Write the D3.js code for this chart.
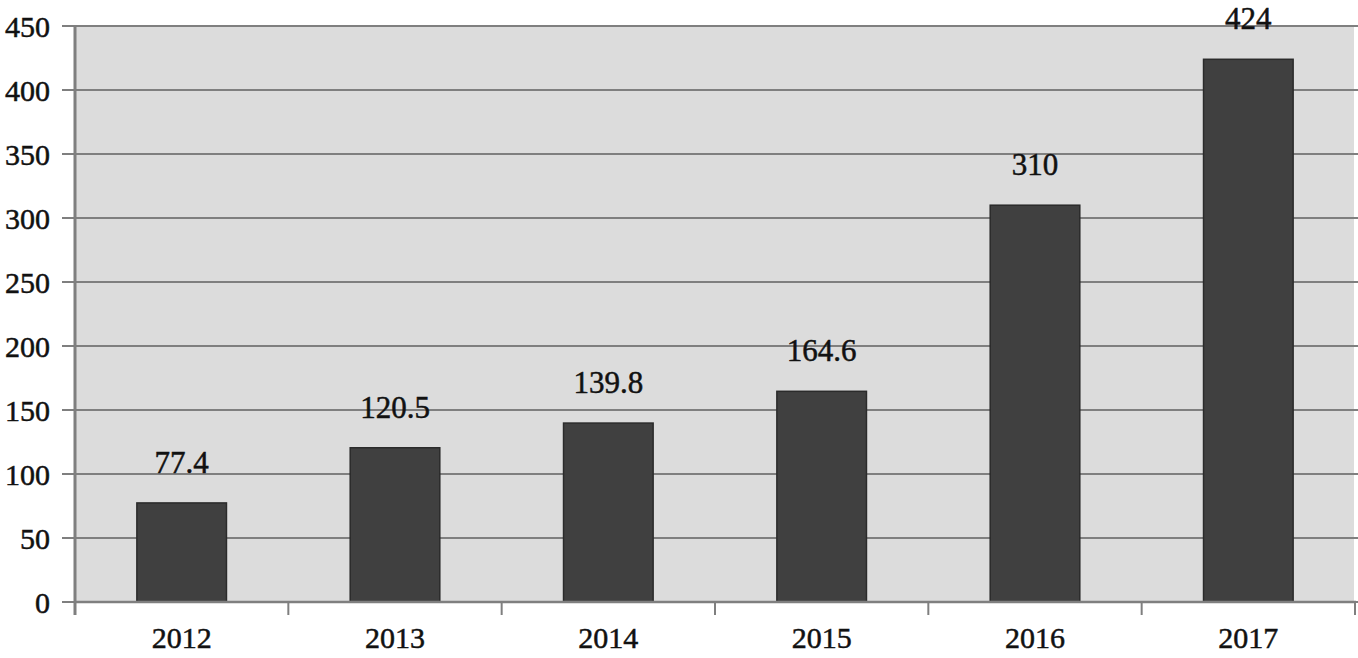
<!DOCTYPE html>
<html><head><meta charset="utf-8">
<script src="https://cdn.jsdelivr.net/npm/d3@7"></script>
<style>
html,body{margin:0;padding:0;background:#fff;}
svg{display:block;}
text{font-family:"Liberation Serif","Times New Roman",serif;fill:#111;stroke:#111;stroke-width:0.5px;}
</style></head>
<body>
<svg id="chart" width="1358" height="658"></svg>
<script>
const categories = ["2012","2013","2014","2015","2016","2017"];
const values = [77.4, 120.5, 139.8, 164.6, 310, 424];
const valueLabels = ["77.4","120.5","139.8","164.6","310","424"];
const yTicks = [0,50,100,150,200,250,300,350,400,450];

const W = 1358, H = 658;
const m = {left:75, right:3, top:26, bottom:56};
const svg = d3.select("#chart");
const x = d3.scaleBand().domain(categories).range([m.left, W - m.right]).paddingInner(0.58).paddingOuter(0.29);
const xb = d3.scaleBand().domain(categories).range([m.left, W - m.right]);
const y = d3.scaleLinear().domain([0,450]).range([H - m.bottom, m.top]);

// background
svg.append("rect").attr("x", m.left).attr("y", y(450)).attr("width", W - m.right - m.left - 1).attr("height", y(0) - y(450)).attr("fill", "#dcdcdc");

// gridlines
svg.append("g").selectAll("line").data(yTicks).join("line")
  .attr("x1", m.left - 13).attr("x2", W).attr("y1", d => y(d)).attr("y2", d => y(d))
  .attr("stroke", "#7f7f7f").attr("stroke-width", 2);

// y labels
svg.append("g").selectAll("text").data(yTicks).join("text")
  .attr("x", 50).attr("y", d => y(d)).attr("dy", "0.35em").attr("text-anchor", "end")
  .attr("font-size", 30).text(d => d);

// bars
svg.append("g").selectAll("rect").data(values).join("rect")
  .attr("x", (d,i) => x(categories[i])).attr("width", x.bandwidth())
  .attr("y", d => y(d)).attr("height", d => y(0) - y(d))
  .attr("fill", "#404040").attr("stroke", "#2b2b2b").attr("stroke-width", 1.5);

// value labels
svg.append("g").selectAll("text").data(values).join("text")
  .attr("x", (d,i) => x(categories[i]) + x.bandwidth()/2).attr("y", d => y(d) - 30)
  .attr("text-anchor", "middle").attr("font-size", 31).text((d,i) => valueLabels[i]);

// y axis line
svg.append("line").attr("x1", m.left).attr("x2", m.left).attr("y1", y(450)).attr("y2", y(0) + 13)
  .attr("stroke", "#7f7f7f").attr("stroke-width", 3);
// x axis line
svg.append("line").attr("x1", m.left).attr("x2", W - 2).attr("y1", y(0)).attr("y2", y(0))
  .attr("stroke", "#7f7f7f").attr("stroke-width", 2.5);
// x ticks at band boundaries
const bounds = categories.map(c => xb(c)).concat([W - m.right]);
svg.append("g").selectAll("line").data(bounds.slice(1)).join("line")
  .attr("x1", d => d).attr("x2", d => d).attr("y1", y(0)).attr("y2", y(0) + 13)
  .attr("stroke", "#7f7f7f").attr("stroke-width", 2);

// x labels
svg.append("g").selectAll("text").data(categories).join("text")
  .attr("x", d => xb(d) + xb.bandwidth()/2).attr("y", 648)
  .attr("text-anchor", "middle").attr("font-size", 30).text(d => d);
</script>
</body></html>
